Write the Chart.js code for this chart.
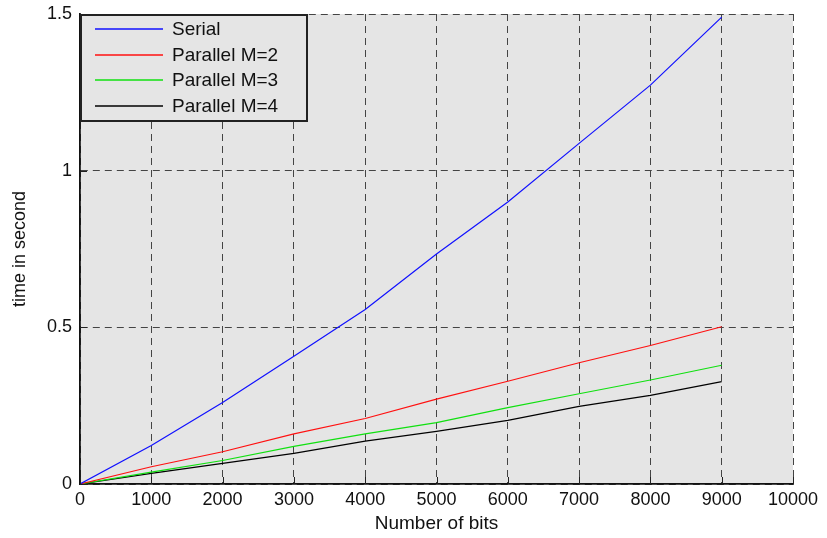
<!DOCTYPE html>
<html>
<head>
<meta charset="utf-8">
<script src="https://cdn.jsdelivr.net/npm/chart.js@4"></script>
<style>
  html, body { margin: 0; padding: 0; background: #fff; }
  #wrap { width: 827px; height: 538px; }
</style>
</head>
<body>
<div id="wrap"><canvas id="c" width="827" height="538"></canvas></div>
<script>
// ---- data ----
const bits = [0, 1000, 2000, 3000, 4000, 5000, 6000, 7000, 8000, 9000];
const serial = [0, 0.123, 0.260, 0.408, 0.557, 0.734, 0.900, 1.087, 1.273, 1.490];
const parallelM2 = [0, 0.055, 0.103, 0.160, 0.209, 0.271, 0.328, 0.387, 0.442, 0.502];
const parallelM3 = [0, 0.038, 0.075, 0.120, 0.160, 0.196, 0.244, 0.288, 0.332, 0.379];
const parallelM4 = [0, 0.034, 0.066, 0.098, 0.137, 0.168, 0.203, 0.248, 0.283, 0.327];
const seriesNames = ["Serial", "Parallel M=2", "Parallel M=3", "Parallel M=4"];
const xTickLabels = ["0","1000","2000","3000","4000","5000","6000","7000","8000","9000","10000"];
const yTickLabels = ["0","0.5","1","1.5"];
const xTitle = "Number of bits";
const yTitle = "time in second";

const FONT = "'Liberation Sans', Arial, Helvetica, sans-serif";
const colors = ["#1010ff", "#ff1010", "#10e010", "#000000"];
const seriesValues = [serial, parallelM2, parallelM3, parallelM4];

const datasets = seriesNames.map((name, i) => ({
  label: name,
  data: bits.map((b, j) => ({ x: b, y: seriesValues[i][j] })),
  borderColor: colors[i],
  backgroundColor: colors[i],
  borderWidth: 1.2,
  pointRadius: 0,
  tension: 0,
  fill: false
}));

const bgPlugin = {
  id: 'plotBg',
  beforeDraw(chart) {
    const { ctx, chartArea: a } = chart;
    ctx.save();
    ctx.fillStyle = '#e5e5e5';
    ctx.fillRect(a.left, a.top, a.right - a.left, a.bottom - a.top);
    ctx.restore();
  }
};

const tickPlugin = {
  id: 'innerTicks',
  afterDatasetsDraw(chart) {
    const { ctx, chartArea: a, scales } = chart;
    ctx.save();
    ctx.strokeStyle = '#222';
    ctx.lineWidth = 1;
    ctx.setLineDash([]);
    scales.x.ticks.forEach(t => {
      const px = Math.round(scales.x.getPixelForValue(t.value)) + 0.5;
      ctx.beginPath(); ctx.moveTo(px, a.bottom); ctx.lineTo(px, a.bottom - 7); ctx.stroke();
    });
    scales.y.ticks.forEach(t => {
      const py = Math.round(scales.y.getPixelForValue(t.value)) + 0.5;
      ctx.beginPath(); ctx.moveTo(a.left, py); ctx.lineTo(a.left + 7, py); ctx.stroke();
    });
    ctx.restore();
  }
};

const legendPlugin = {
  id: 'boxLegend',
  afterDraw(chart) {
    const { ctx, chartArea: a } = chart;
    const x0 = Math.round(a.left), y0 = Math.round(a.top), w = 228, h = 108;
    ctx.save();
    ctx.setLineDash([]);
    ctx.fillStyle = '#e5e5e5';
    ctx.fillRect(x0, y0, w, h);
    ctx.strokeStyle = '#222';
    ctx.lineWidth = 2;
    ctx.strokeRect(x0 + 1, y0 + 1, w - 2, h - 2);
    ctx.font = "19px " + FONT;
    ctx.textBaseline = 'middle';
    ctx.textAlign = 'left';
    chart.data.datasets.forEach((ds, i) => {
      const yy = Math.round(y0 + 15 + i * 25.7);
      ctx.strokeStyle = ds.borderColor;
      ctx.lineWidth = 1.6;
      ctx.beginPath(); ctx.moveTo(x0 + 15, yy); ctx.lineTo(x0 + 83, yy); ctx.stroke();
      ctx.fillStyle = '#111';
      ctx.fillText(ds.label, x0 + 92, yy + 1);
    });
    ctx.restore();
  }
};

new Chart(document.getElementById('c'), {
  type: 'line',
  data: { datasets },
  plugins: [bgPlugin, tickPlugin, legendPlugin],
  options: {
    responsive: false,
    animation: false,
    layout: { padding: { left: 0, right: 34, top: 14, bottom: 0 } },
    plugins: { legend: { display: false }, tooltip: { enabled: false } },
    scales: {
      x: {
        type: 'linear',
        min: 0, max: 10000,
        afterFit(s) { s.height = 54; s.paddingLeft = 0; s.paddingRight = 0; },
        ticks: {
          stepSize: 1000,
          color: '#111',
          padding: 5,
          maxRotation: 0,
          autoSkip: false,
          font: { family: FONT, size: 18 },
          callback: (v) => { const i = Math.round(v / 1000); return xTickLabels[i] !== undefined ? xTickLabels[i] : ''; }
        },
        grid: { color: '#444', lineWidth: 1, drawTicks: false },
        border: { display: true, color: '#111', width: 1.8, dash: [7, 5] },
        title: { display: true, text: xTitle, color: '#111', font: { family: FONT, size: 19 }, padding: { top: 0, bottom: 3 } }
      },
      y: {
        min: 0, max: 1.5,
        afterFit(s) { s.width = 80; s.paddingTop = 0; s.paddingBottom = 0; },
        ticks: {
          stepSize: 0.5,
          color: '#111',
          padding: 8,
          font: { family: FONT, size: 18 },
          callback: (v) => { const i = Math.round(v / 0.5); return yTickLabels[i] !== undefined ? yTickLabels[i] : ''; }
        },
        grid: { color: '#444', lineWidth: 1, drawTicks: false },
        border: { display: true, color: '#111', width: 1.8, dash: [7, 5] },
        title: { display: true, text: yTitle, color: '#111', font: { family: FONT, size: 18 }, padding: { top: 9, bottom: 0 } }
      }
    }
  }
});
</script>
</body>
</html>
